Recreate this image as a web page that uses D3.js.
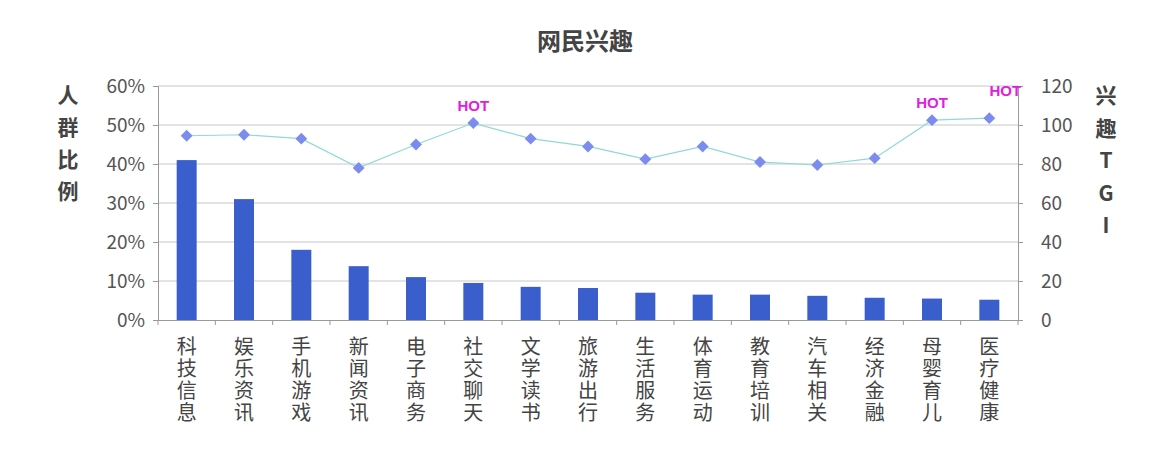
<!DOCTYPE html>
<html><head><meta charset="utf-8">
<script src="https://cdn.jsdelivr.net/npm/d3@7"></script>
<style>body{margin:0;background:#fff}</style>
</head><body>
<svg id="c" width="1171" height="454"></svg>
<script>
const categories = ['科技信息','娱乐资讯','手机游戏','新闻资讯','电子商务','社交聊天','文学读书','旅游出行','生活服务','体育运动','教育培训','汽车相关','经济金融','母婴育儿','医疗健康'];
const share = [0.41,0.31,0.18,0.138,0.11,0.095,0.085,0.082,0.07,0.065,0.065,0.062,0.057,0.055,0.052];
const tgi = [94.5,95,93,78,90,101,93,89,82.5,89,81,79.5,83,102.5,103.5];
const hot = [false,false,false,false,false,true,false,false,false,false,false,false,false,true,true];
const leftTicks = [0,0.1,0.2,0.3,0.4,0.5,0.6];
const rightTicks = [0,20,40,60,80,100,120];

const svg = d3.select('#c');
const L = 158, R = 1018, T = 86, B = 320;
const font = '"Noto Sans CJK SC","Microsoft YaHei",sans-serif';

const x = d3.scaleBand().domain(categories).range([L, R]);
const yL = d3.scaleLinear().domain([0, 0.6]).range([B, T]);
const yR = d3.scaleLinear().domain([0, 120]).range([B, T]);

// grid
svg.append('g').selectAll('line').data(leftTicks.slice(1)).join('line')
  .attr('x1', L).attr('x2', R).attr('y1', d => yL(d)).attr('y2', d => yL(d))
  .attr('stroke', '#c8c8c8');

// bars
svg.append('g').selectAll('rect').data(share).join('rect')
  .attr('x', (d, i) => x(categories[i]) + x.bandwidth() / 2 - 10)
  .attr('width', 20)
  .attr('y', d => yL(d)).attr('height', d => B - yL(d))
  .attr('fill', '#3a5fcd');

// axes
const gl = svg.append('g').attr('transform', `translate(${L},0)`)
  .call(d3.axisLeft(yL).tickValues(leftTicks).tickFormat(d3.format('.0%')).tickSize(5).tickPadding(8));
const gr = svg.append('g').attr('transform', `translate(${R},0)`)
  .call(d3.axisRight(yR).tickValues(rightTicks).tickSize(5).tickPadding(18));
const gx = svg.append('g').attr('transform', `translate(0,${B})`)
  .call(d3.axisBottom(x).tickSize(0).tickFormat(''));
[gl, gr, gx].forEach(g => {
  g.selectAll('path,line').attr('stroke', '#999');
  g.selectAll('text').attr('font-family', font).attr('font-size', 19).attr('fill', '#555');
});
// x ticks between categories
svg.append('g').selectAll('line').data(categories.concat(['end'])).join('line')
  .attr('x1', (d, i) => L + i * x.step()).attr('x2', (d, i) => L + i * x.step())
  .attr('y1', B).attr('y2', B + 5).attr('stroke', '#999');

// category labels, vertical
categories.forEach(c => {
  const t = svg.append('text').attr('font-family', font).attr('font-size', 20).attr('fill', '#444')
    .attr('text-anchor', 'middle');
  [...c].forEach((ch, k) => t.append('tspan').attr('x', x(c) + x.bandwidth() / 2).attr('y', 354 + k * 22).text(ch));
});

// line
const line = d3.line().x((d, i) => x(categories[i]) + x.bandwidth() / 2).y(d => yR(d));
svg.append('path').datum(tgi).attr('d', line).attr('fill', 'none').attr('stroke', '#8fdad4').attr('stroke-width', 1.2);
svg.append('g').selectAll('path').data(tgi).join('path')
  .attr('d', d3.symbol(d3.symbolDiamond2, 90))
  .attr('transform', (d, i) => `translate(${x(categories[i]) + x.bandwidth() / 2},${yR(d)})`)
  .attr('fill', '#7b8cee');

// HOT
svg.append('g').selectAll('text').data(tgi.map((d, i) => [d, i]).filter(p => hot[p[1]])).join('text')
  .attr('x', p => x(categories[p[1]]) + x.bandwidth() / 2 + (p[1] === 14 ? 16 : 0))
  .attr('y', p => yR(p[0]) - (p[1] === 14 ? 22 : 12))
  .attr('text-anchor', 'middle').attr('font-family', 'Arial,sans-serif').attr('font-weight', 'bold')
  .attr('font-size', 15).attr('fill', '#e020e0').text('HOT');

// title
svg.append('text').attr('x', 585).attr('y', 50).attr('text-anchor', 'middle')
  .attr('font-family', font).attr('font-weight', 'bold').attr('font-size', 24).attr('fill', '#444').text('网民兴趣');

// axis titles
function vtitle(chars, cx, y0, step) {
  const t = svg.append('text').attr('font-family', font).attr('font-weight', 'bold').attr('font-size', 21)
    .attr('fill', '#444').attr('text-anchor', 'middle');
  chars.forEach((ch, k) => t.append('tspan').attr('x', cx).attr('y', y0 + k * step).text(ch));
}
vtitle([...'人群比例'], 68, 103, 32);
vtitle(['兴', '趣', 'T', 'G', 'I'], 1106, 103, 32.5);
</script>
</body></html>
